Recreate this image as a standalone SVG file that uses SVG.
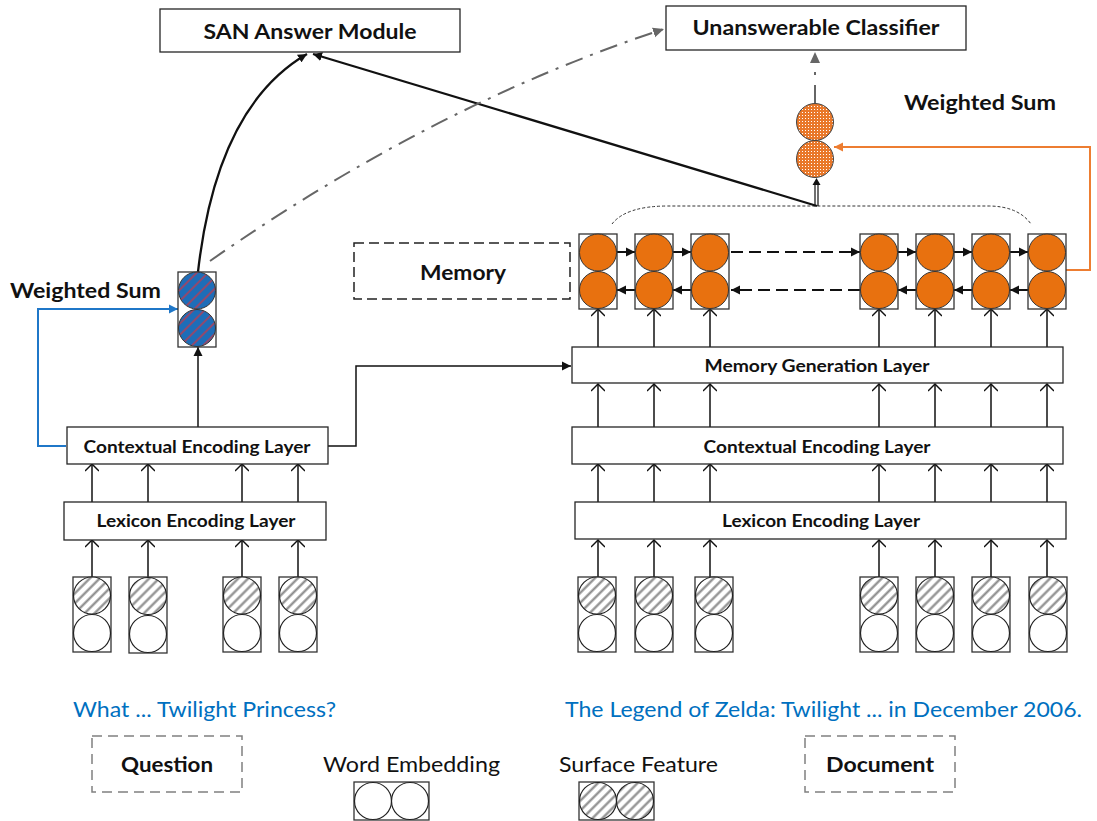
<svg xmlns="http://www.w3.org/2000/svg" width="1097" height="821" viewBox="0 0 1097 821">
<style>
.box{fill:#fff;stroke:#262626;stroke-width:1.3}
.cell{fill:#fff;stroke:#333;stroke-width:1.3}
.b{font-family:Lato,'Liberation Sans',sans-serif;font-weight:bold;fill:#111}
.r{font-family:Lato,'Liberation Sans',sans-serif;fill:#111}
.blue{font-family:Lato,'Liberation Sans',sans-serif;fill:#0070C0}
.thin{stroke:#111;stroke-width:1.5;fill:none;marker-end:url(#open)}
.we{fill:#fff;stroke:#222;stroke-width:1.2}
.sf{fill:url(#hatch);stroke:#222;stroke-width:1.2}
.mem{fill:#E8710F;stroke:#333;stroke-width:1}
.blu{fill:url(#bluehatch);stroke:#333;stroke-width:1}
.dot{fill:url(#dots);stroke:#444;stroke-width:1}
.row{stroke:#111;stroke-width:2;fill:none;marker-end:url(#tri)}
.dash{stroke-dasharray:12 6}
.gbox{fill:none;stroke:#808080;stroke-width:1.5;stroke-dasharray:10 6}
</style>
<defs>
<marker id="open" markerUnits="userSpaceOnUse" viewBox="0 0 14 14" markerWidth="14" markerHeight="14" refX="12" refY="7" orient="auto"><path d="M5,0 L12,7 L5,14" fill="none" stroke="#111" stroke-width="1.5"/></marker>
<marker id="tri" markerUnits="userSpaceOnUse" viewBox="0 0 10 10" markerWidth="10" markerHeight="10" refX="9" refY="5" orient="auto"><path d="M0,0.5 L9,5 L0,9.5 z" fill="#111"/></marker>
<marker id="triB" markerUnits="userSpaceOnUse" viewBox="0 0 10 10" markerWidth="10" markerHeight="10" refX="9" refY="5" orient="auto"><path d="M0,0.5 L9,5 L0,9.5 z" fill="#1F77C8"/></marker>
<marker id="triO" markerUnits="userSpaceOnUse" viewBox="0 0 10 10" markerWidth="10" markerHeight="10" refX="9" refY="5" orient="auto"><path d="M0,0.5 L9,5 L0,9.5 z" fill="#ED7D31"/></marker>
<marker id="triG" markerUnits="userSpaceOnUse" viewBox="0 0 12 12" markerWidth="12" markerHeight="12" refX="11" refY="6" orient="auto"><path d="M0,1 L11,6 L0,11 z" fill="#666"/></marker>
<pattern id="hatch" patternUnits="userSpaceOnUse" width="7" height="7" patternTransform="rotate(45)"><rect width="7" height="7" fill="#fff"/><line x1="3.5" y1="0" x2="3.5" y2="7" stroke="#8a8a8a" stroke-width="2.2"/></pattern>
<pattern id="bluehatch" patternUnits="userSpaceOnUse" width="8" height="8" patternTransform="rotate(45)"><rect width="8" height="8" fill="#1E6DB8"/><line x1="4" y1="0" x2="4" y2="8" stroke="#E0303A" stroke-width="1.2"/></pattern>
<pattern id="dots" patternUnits="userSpaceOnUse" width="3" height="3"><rect width="3" height="3" fill="#E9782A"/><rect x="1" y="1" width="1" height="1" fill="#fff"/></pattern>
</defs>

<g id="connectors">
  <!-- right column: embeddings -> lexicon -->
  <line class="thin" x1="598" y1="577" x2="598" y2="540"/>
  <line class="thin" x1="654" y1="577" x2="654" y2="540"/>
  <line class="thin" x1="710" y1="577" x2="710" y2="540"/>
  <line class="thin" x1="879" y1="577" x2="879" y2="540"/>
  <line class="thin" x1="935" y1="577" x2="935" y2="540"/>
  <line class="thin" x1="991" y1="577" x2="991" y2="540"/>
  <line class="thin" x1="1047" y1="577" x2="1047" y2="540"/>
  <!-- lexicon -> contextual -->
  <line class="thin" x1="598" y1="502" x2="598" y2="464"/>
  <line class="thin" x1="654" y1="502" x2="654" y2="464"/>
  <line class="thin" x1="710" y1="502" x2="710" y2="464"/>
  <line class="thin" x1="879" y1="502" x2="879" y2="464"/>
  <line class="thin" x1="935" y1="502" x2="935" y2="464"/>
  <line class="thin" x1="991" y1="502" x2="991" y2="464"/>
  <line class="thin" x1="1047" y1="502" x2="1047" y2="464"/>
  <!-- contextual -> memory generation -->
  <line class="thin" x1="598" y1="427" x2="598" y2="384"/>
  <line class="thin" x1="654" y1="427" x2="654" y2="384"/>
  <line class="thin" x1="710" y1="427" x2="710" y2="384"/>
  <line class="thin" x1="879" y1="427" x2="879" y2="384"/>
  <line class="thin" x1="935" y1="427" x2="935" y2="384"/>
  <line class="thin" x1="991" y1="427" x2="991" y2="384"/>
  <line class="thin" x1="1047" y1="427" x2="1047" y2="384"/>
  <!-- memory generation -> memory -->
  <line class="thin" x1="598" y1="347" x2="598" y2="309"/>
  <line class="thin" x1="654" y1="347" x2="654" y2="309"/>
  <line class="thin" x1="710" y1="347" x2="710" y2="309"/>
  <line class="thin" x1="879" y1="347" x2="879" y2="309"/>
  <line class="thin" x1="935" y1="347" x2="935" y2="309"/>
  <line class="thin" x1="991" y1="347" x2="991" y2="309"/>
  <line class="thin" x1="1047" y1="347" x2="1047" y2="309"/>
  <!-- left column -->
  <line class="thin" x1="92" y1="577" x2="92" y2="540"/>
  <line class="thin" x1="148" y1="577" x2="148" y2="540"/>
  <line class="thin" x1="242" y1="577" x2="242" y2="540"/>
  <line class="thin" x1="298" y1="577" x2="298" y2="540"/>
  <line class="thin" x1="92" y1="502" x2="92" y2="464"/>
  <line class="thin" x1="148" y1="502" x2="148" y2="464"/>
  <line class="thin" x1="242" y1="502" x2="242" y2="464"/>
  <line class="thin" x1="298" y1="502" x2="298" y2="464"/>
  <!-- memory forward row -->
  <line class="row" x1="617" y1="252" x2="635" y2="252"/>
  <line class="row" x1="673" y1="252" x2="691" y2="252"/>
  <line class="row dash" x1="731" y1="252" x2="860" y2="252"/>
  <line class="row" x1="898" y1="252" x2="916" y2="252"/>
  <line class="row" x1="954" y1="252" x2="972" y2="252"/>
  <line class="row" x1="1010" y1="252" x2="1028" y2="252"/>
  <!-- memory backward row -->
  <line class="row" x1="635" y1="290" x2="617" y2="290"/>
  <line class="row" x1="691" y1="290" x2="673" y2="290"/>
  <line class="row dash" x1="860" y1="290" x2="731" y2="290"/>
  <line class="row" x1="916" y1="290" x2="898" y2="290"/>
  <line class="row" x1="972" y1="290" x2="954" y2="290"/>
  <line class="row" x1="1028" y1="290" x2="1010" y2="290"/>
  <!-- dotted brace over memory -->
  <path d="M612,224 Q626,206 668,206 L988,206 Q1018,206 1031,224" fill="none" stroke="#333" stroke-width="1" stroke-dasharray="3 2"/>
  <!-- memory -> orange weighted sum (double line) -->
  <path d="M815,206 V184 M818,206 V184" stroke="#111" stroke-width="1.2" fill="none"/>
  <path d="M816.5,178 L812.5,185 L820.5,185 z" fill="#111"/>
  <!-- question contextual -> memory generation -->
  <path d="M328,446 H356 V366 H571" stroke="#111" stroke-width="1.5" fill="none" marker-end="url(#tri)"/>
  <!-- question contextual -> blue cell -->
  <path d="M198,427 V347" stroke="#111" stroke-width="1.5" fill="none" marker-end="url(#tri)"/>
  <!-- blue weighted sum feedback -->
  <path d="M66,446 H38 V309 H178" stroke="#1F77C8" stroke-width="2" fill="none" marker-end="url(#triB)"/>
  <!-- orange weighted sum feedback -->
  <path d="M1066,270 H1090 V147 H834" stroke="#ED7D31" stroke-width="2" fill="none" marker-end="url(#triO)"/>
  <!-- to SAN answer module -->
  <path d="M198,272 C210,165 245,90 307,54" stroke="#111" stroke-width="2.3" fill="none" marker-end="url(#tri)"/>
  <path d="M817,206 L313,54" stroke="#111" stroke-width="2.3" fill="none" marker-end="url(#tri)"/>
  <!-- dash-dot to unanswerable classifier -->
  <path d="M210,261 Q435,104 664,29" stroke="#666" stroke-width="2" fill="none" stroke-dasharray="18 8 3 8" marker-end="url(#triG)"/>
  <path d="M815,103 V52" stroke="#666" stroke-width="2" fill="none" stroke-dasharray="18 10 3 40" marker-end="url(#triG)"/>
</g>

<g id="san-answer-module">
  <rect class="box" x="160" y="9" width="300" height="43"/>
  <text class="b" x="310" y="39" font-size="21" text-anchor="middle" textLength="213" lengthAdjust="spacingAndGlyphs">SAN Answer Module</text>
</g>
<g id="unanswerable-classifier">
  <rect class="box" x="666" y="6" width="300" height="44"/>
  <text class="b" x="816" y="35" font-size="21" text-anchor="middle" textLength="247" lengthAdjust="spacingAndGlyphs">Unanswerable Classifier</text>
</g>
<g id="weighted-sum-right">
  <circle class="dot" cx="815" cy="122" r="18.5"/>
  <circle class="dot" cx="815" cy="159" r="18.5"/>
  <text class="b" x="904" y="110" font-size="20" textLength="152" lengthAdjust="spacingAndGlyphs">Weighted Sum</text>
</g>
<g id="weighted-sum-left">
  <rect class="cell" x="178" y="272" width="38" height="75"/>
  <circle class="blu" cx="197" cy="290.5" r="18.5"/>
  <circle class="blu" cx="197" cy="328" r="18.5"/>
  <text class="b" x="10" y="298" font-size="20" textLength="151" lengthAdjust="spacingAndGlyphs">Weighted Sum</text>
</g>
<g id="memory-label">
  <rect x="354" y="243" width="216" height="56" fill="none" stroke="#222" stroke-width="1.5" stroke-dasharray="10 5"/>
  <text class="b" x="463" y="280" font-size="20" text-anchor="middle" textLength="86" lengthAdjust="spacingAndGlyphs">Memory</text>
</g>
<g id="memory">
  <rect class="cell" x="579" y="234" width="38" height="75"/><circle class="mem" cx="598" cy="252.5" r="18.5"/><circle class="mem" cx="598" cy="290" r="18.5"/>
  <rect class="cell" x="635" y="234" width="38" height="75"/><circle class="mem" cx="654" cy="252.5" r="18.5"/><circle class="mem" cx="654" cy="290" r="18.5"/>
  <rect class="cell" x="691" y="234" width="38" height="75"/><circle class="mem" cx="710" cy="252.5" r="18.5"/><circle class="mem" cx="710" cy="290" r="18.5"/>
  <rect class="cell" x="860" y="234" width="38" height="75"/><circle class="mem" cx="879" cy="252.5" r="18.5"/><circle class="mem" cx="879" cy="290" r="18.5"/>
  <rect class="cell" x="916" y="234" width="38" height="75"/><circle class="mem" cx="935" cy="252.5" r="18.5"/><circle class="mem" cx="935" cy="290" r="18.5"/>
  <rect class="cell" x="972" y="234" width="38" height="75"/><circle class="mem" cx="991" cy="252.5" r="18.5"/><circle class="mem" cx="991" cy="290" r="18.5"/>
  <rect class="cell" x="1028" y="234" width="38" height="75"/><circle class="mem" cx="1047" cy="252.5" r="18.5"/><circle class="mem" cx="1047" cy="290" r="18.5"/>
</g>
<g id="memory-generation-layer">
  <rect class="box" x="572" y="347" width="491" height="36"/>
  <text class="b" x="817" y="372" font-size="16.5" text-anchor="middle" textLength="225" lengthAdjust="spacingAndGlyphs">Memory Generation Layer</text>
</g>
<g id="contextual-encoding-doc">
  <rect class="box" x="572" y="427" width="491" height="37"/>
  <text class="b" x="817" y="453" font-size="16.5" text-anchor="middle" textLength="227" lengthAdjust="spacingAndGlyphs">Contextual Encoding Layer</text>
</g>
<g id="lexicon-encoding-doc">
  <rect class="box" x="575" y="502" width="491" height="37"/>
  <text class="b" x="821" y="527" font-size="16.5" text-anchor="middle" textLength="198" lengthAdjust="spacingAndGlyphs">Lexicon Encoding Layer</text>
</g>
<g id="contextual-encoding-question">
  <rect class="box" x="67" y="427" width="261" height="37"/>
  <text class="b" x="197" y="453" font-size="16.5" text-anchor="middle" textLength="227" lengthAdjust="spacingAndGlyphs">Contextual Encoding Layer</text>
</g>
<g id="lexicon-encoding-question">
  <rect class="box" x="64" y="502" width="262" height="38"/>
  <text class="b" x="196" y="527" font-size="16.5" text-anchor="middle" textLength="199" lengthAdjust="spacingAndGlyphs">Lexicon Encoding Layer</text>
</g>
<g id="question-embeddings">
  <rect class="cell" x="73" y="577" width="38" height="75"/><circle class="sf" cx="92" cy="595.5" r="18.5"/><circle class="we" cx="92" cy="633" r="18.5"/>
  <rect class="cell" x="129" y="577" width="38" height="76"/><circle class="sf" cx="148" cy="596" r="18.5"/><circle class="we" cx="148" cy="634" r="18.5"/>
  <rect class="cell" x="223" y="577" width="38" height="75"/><circle class="sf" cx="242" cy="595.5" r="18.5"/><circle class="we" cx="242" cy="633" r="18.5"/>
  <rect class="cell" x="279" y="577" width="38" height="75"/><circle class="sf" cx="298" cy="595.5" r="18.5"/><circle class="we" cx="298" cy="633" r="18.5"/>
</g>
<g id="document-embeddings">
  <rect class="cell" x="578" y="577" width="38" height="75"/><circle class="sf" cx="597" cy="595.5" r="18.5"/><circle class="we" cx="597" cy="633" r="18.5"/>
  <rect class="cell" x="635" y="577" width="38" height="75"/><circle class="sf" cx="654" cy="595.5" r="18.5"/><circle class="we" cx="654" cy="633" r="18.5"/>
  <rect class="cell" x="695" y="577" width="38" height="75"/><circle class="sf" cx="714" cy="595.5" r="18.5"/><circle class="we" cx="714" cy="633" r="18.5"/>
  <rect class="cell" x="860" y="577" width="38" height="75"/><circle class="sf" cx="879" cy="595.5" r="18.5"/><circle class="we" cx="879" cy="633" r="18.5"/>
  <rect class="cell" x="916" y="577" width="38" height="75"/><circle class="sf" cx="935" cy="595.5" r="18.5"/><circle class="we" cx="935" cy="633" r="18.5"/>
  <rect class="cell" x="972" y="577" width="38" height="75"/><circle class="sf" cx="991" cy="595.5" r="18.5"/><circle class="we" cx="991" cy="633" r="18.5"/>
  <rect class="cell" x="1029" y="577" width="38" height="75"/><circle class="sf" cx="1048" cy="595.5" r="18.5"/><circle class="we" cx="1048" cy="633" r="18.5"/>
</g>
<g id="question-text">
  <text class="blue" x="73" y="717" font-size="21" textLength="263" lengthAdjust="spacingAndGlyphs">What ... Twilight Princess?</text>
</g>
<g id="document-text">
  <text class="blue" x="565" y="717" font-size="21" textLength="517" lengthAdjust="spacingAndGlyphs">The Legend of Zelda: Twilight ... in December 2006.</text>
</g>
<g id="question-legend">
  <rect class="gbox" x="92" y="736" width="150" height="56"/>
  <text class="b" x="167" y="772" font-size="21" text-anchor="middle" textLength="92" lengthAdjust="spacingAndGlyphs">Question</text>
</g>
<g id="word-embedding-legend">
  <text class="r" x="323" y="772" font-size="21" textLength="177" lengthAdjust="spacingAndGlyphs">Word Embedding</text>
  <rect class="cell" x="354" y="782" width="75" height="38"/>
  <circle class="we" cx="373" cy="801" r="18.5"/><circle class="we" cx="410" cy="801" r="18.5"/>
</g>
<g id="surface-feature-legend">
  <text class="r" x="559" y="772" font-size="21" textLength="159" lengthAdjust="spacingAndGlyphs">Surface Feature</text>
  <rect class="cell" x="579" y="782" width="75" height="38"/>
  <circle class="sf" cx="598" cy="801" r="18.5"/><circle class="sf" cx="635" cy="801" r="18.5"/>
</g>
<g id="document-legend">
  <rect class="gbox" x="805" y="736" width="150" height="56"/>
  <text class="b" x="880" y="772" font-size="21" text-anchor="middle" textLength="108" lengthAdjust="spacingAndGlyphs">Document</text>
</g>
</svg>
